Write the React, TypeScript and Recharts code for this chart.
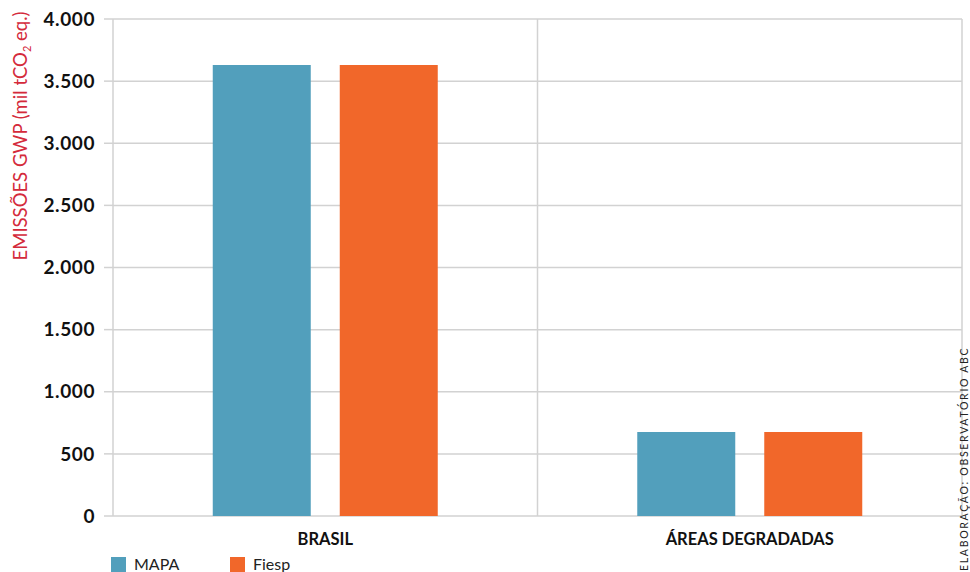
import React from "react";
import { BarChart, Bar, XAxis, YAxis, CartesianGrid, Legend, Label } from "recharts";

const categories = ["BRASIL", "ÁREAS DEGRADADAS"];
const mapaValues = [3630, 676];
const fiespValues = [3630, 676];
const yTicks = [0, 500, 1000, 1500, 2000, 2500, 3000, 3500, 4000];
const edgeTicks = [0, 1, 2];

const seriesNames = ["MAPA", "Fiesp"];
const seriesColors = ["#529fbc", "#f1672a"];

const data = categories.map((name, i) => ({
  name,
  MAPA: mapaValues[i],
  Fiesp: fiespValues[i],
}));

const FONT = "Lato, 'Noto Sans', sans-serif";
const GRID = "#d2d2d2";

const fmt = (v: number) => v.toString().replace(/\B(?=(\d{3})+(?!\d))/g, ".");

const AxisTitle = ({ viewBox }: any) => {
  const cx = viewBox.x + 27;
  const cy = 136;
  return (
    <text
      x={cx}
      y={cy}
      transform={`rotate(-90 ${cx} ${cy})`}
      textAnchor="middle"
      fill="#d42a3b"
      fontFamily={FONT}
      fontSize={18.5}
    >
      EMISSÕES GWP (mil tCO
      <tspan fontSize={11} dy={4}>2</tspan>
      <tspan dy={-4}> eq.)</tspan>
    </text>
  );
};

const LegendContent = () => (
  <div style={{ display: "flex", fontFamily: FONT, fontSize: 16, color: "#222", height: 20, paddingLeft: 111 }}>
    {seriesNames.map((n, i) => (
      <div key={n} style={{ display: "flex", alignItems: "flex-start", width: 119 }}>
        <div style={{ width: 15, height: 15, background: seriesColors[i], marginTop: 5, marginRight: 8 }} />
        <span style={{ lineHeight: "20px", marginTop: 2 }}>{n}</span>
      </div>
    ))}
  </div>
);

export default function App() {
  return (
    <div style={{ position: "fixed", left: 0, top: 0, width: 970, height: 572, background: "#fff", overflow: "hidden" }}>
      <BarChart
        width={970}
        height={572}
        data={data}
        margin={{ top: 19, right: 8, left: 0, bottom: 0 }}
        barCategoryGap="23.5%"
        barGap={29}
      >
        <CartesianGrid
          stroke={GRID}
          strokeWidth={1.5}
          verticalCoordinatesGenerator={({ offset }: any) => [
            offset.left,
            offset.left + offset.width / 2,
            offset.left + offset.width,
          ]}
        />
        <XAxis xAxisId="edge" type="number" domain={[0, 2]} ticks={edgeTicks} tick={false} tickSize={6} axisLine={false} tickLine={{ stroke: GRID, strokeWidth: 1.5 }} height={0} />
        <XAxis
          xAxisId="cat"
          dataKey="name"
          axisLine={false}
          tickLine={false}
          height={36}
          tick={{ fontFamily: FONT, fontSize: 16.5, fontWeight: 700, fill: "#111" }}
          tickMargin={11}
        />
        <YAxis
          domain={[0, 4000]}
          ticks={yTicks}
          width={113}
          axisLine={false}
          tickSize={9}
          tickLine={{ stroke: GRID, strokeWidth: 1.5 }}
          tickFormatter={fmt}
          tick={{ fontFamily: FONT, fontSize: 19, fontWeight: 700, fill: "#111", letterSpacing: 0.6 }}
          tickMargin={9}
        >
          <Label content={<AxisTitle />} />
        </YAxis>
        <Legend verticalAlign="bottom" align="left" content={<LegendContent />} />
        {seriesNames.map((n, i) => (
          <Bar key={n} xAxisId="cat" dataKey={n} fill={seriesColors[i]} isAnimationActive={false} />
        ))}
        <text
          x={968}
          y={571}
          transform="rotate(-90 968 571)"
          fontFamily={FONT}
          fontSize={10.5}
          letterSpacing={1.7}
          fill="#222"
        >
          ELABORAÇÃO: OBSERVATÓRIO ABC
        </text>
      </BarChart>
    </div>
  );
}
